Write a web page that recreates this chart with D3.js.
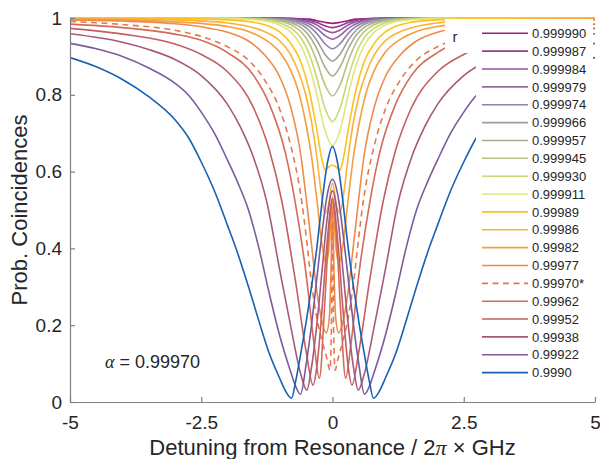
<!DOCTYPE html>
<html>
<head>
<meta charset="utf-8">
<script src="https://cdn.jsdelivr.net/npm/d3@7"></script>
<style>
  body { margin: 0; background: #fff; }
  svg { display: block; font-family: "Liberation Sans", Arial, Helvetica, sans-serif; }
</style>
</head>
<body>
<svg id="chart" width="600" height="459"></svg>
<script>
// ---- axis ticks ----
const xTicks = [-5, -2.5, 0, 2.5, 5];
const xTickLabels = ["-5", "-2.5", "0", "2.5", "5"];
const yTicks = [0, 0.2, 0.4, 0.6, 0.8, 1];
const yTickLabels = ["0", "0.2", "0.4", "0.6", "0.8", "1"];

// ---- legend entries (self-coupling r), top to bottom ----
const legendLabels = ["0.999990", "0.999987", "0.999984", "0.999979", "0.999974",
  "0.999966", "0.999957", "0.999945", "0.999930", "0.999911", "0.99989", "0.99986",
  "0.99982", "0.99977", "0.99970*", "0.99962", "0.99952", "0.99938", "0.99922", "0.9990"];

// ---- under-coupled single dips share one detuning grid ----
const detuningNarrow = [-5, -2, -1.5, -1.2, -1, -0.8, -0.6, -0.45, -0.3, -0.15, 0,
  0.15, 0.3, 0.45, 0.6, 0.8, 1, 1.2, 1.5, 2, 5];
const p_999990 = [1, 1, 1, 1, 1, 0.999, 0.998, 0.997, 0.993, 0.989, 0.986, 0.989, 0.993, 0.997, 0.998, 0.999, 1, 1, 1, 1, 1];
const p_999987 = [1, 1, 1, 1, 0.9993, 0.9986, 0.997, 0.994, 0.988, 0.980, 0.975, 0.980, 0.988, 0.994, 0.997, 0.9986, 0.9993, 1, 1, 1, 1];
const p_999984 = [1, 1, 1, 0.9994, 0.999, 0.998, 0.995, 0.990, 0.982, 0.969, 0.962, 0.969, 0.982, 0.990, 0.995, 0.998, 0.999, 0.9994, 1, 1, 1];
const p_999979 = [1, 1, 1, 0.999, 0.998, 0.9965, 0.992, 0.985, 0.973, 0.955, 0.945, 0.955, 0.973, 0.985, 0.992, 0.9965, 0.998, 0.999, 1, 1, 1];
const p_999974 = [1, 0.9998, 0.9994, 0.9986, 0.997, 0.995, 0.988, 0.978, 0.960, 0.934, 0.920, 0.934, 0.960, 0.978, 0.988, 0.995, 0.997, 0.9986, 0.9994, 0.9998, 1];
const p_999966 = [1, 0.9997, 0.999, 0.998, 0.996, 0.992, 0.983, 0.968, 0.942, 0.907, 0.888, 0.907, 0.942, 0.968, 0.983, 0.992, 0.996, 0.998, 0.999, 0.9997, 1];
const p_999957 = [1, 0.9996, 0.9986, 0.997, 0.994, 0.988, 0.975, 0.955, 0.920, 0.874, 0.849, 0.874, 0.920, 0.955, 0.975, 0.988, 0.994, 0.997, 0.9986, 0.9996, 1];
const p_999945 = [1, 0.9996, 0.998, 0.9955, 0.9915, 0.983, 0.964, 0.936, 0.888, 0.828, 0.797, 0.828, 0.888, 0.936, 0.964, 0.983, 0.9915, 0.9955, 0.998, 0.9996, 1];
const p_999930 = [1, 0.9993, 0.997, 0.993, 0.987, 0.974, 0.948, 0.908, 0.845, 0.768, 0.730, 0.768, 0.845, 0.908, 0.948, 0.974, 0.987, 0.993, 0.997, 0.9993, 1];
const p_999911 = [1, 0.999, 0.9956, 0.990, 0.981, 0.964, 0.928, 0.877, 0.801, 0.710, 0.668, 0.710, 0.801, 0.877, 0.928, 0.964, 0.981, 0.990, 0.9956, 0.999, 1];

// ---- near-critical and over-coupled curves: [detuning, probability] ----
const r99989 = [[-5,1],[-3,0.999],[-2,0.995],[-1.5,0.989],[-1.2,0.978],[-1,0.963],[-0.8,0.935],[-0.6,0.885],[-0.45,0.815],[-0.3,0.71],[-0.2,0.63],[-0.14,0.604],[-0.07,0.612],[0,0.617],
  [0.07,0.612],[0.14,0.604],[0.2,0.63],[0.3,0.71],[0.45,0.815],[0.6,0.885],[0.8,0.935],[1,0.963],[1.2,0.978],[1.5,0.989],[2,0.995],[3,0.999],[5,1]];
const r99986 = [[-5,0.999],[-3,0.995],[-2,0.987],[-1.6,0.978],[-1.3,0.965],[-1,0.94],[-0.8,0.905],[-0.65,0.86],[-0.5,0.795],[-0.4,0.73],[-0.3,0.64],[-0.22,0.55],[-0.14,0.49],[-0.08,0.51],[0,0.57],
  [0.08,0.51],[0.14,0.49],[0.22,0.55],[0.3,0.64],[0.4,0.73],[0.5,0.795],[0.65,0.86],[0.8,0.905],[1,0.94],[1.3,0.965],[1.6,0.978],[2,0.987],[3,0.995],[5,0.999]];
const r99982 = [[-5,0.997],[-3,0.99],[-2,0.978],[-1.6,0.965],[-1.3,0.945],[-1,0.91],[-0.8,0.865],[-0.65,0.81],[-0.5,0.72],[-0.4,0.64],[-0.3,0.53],[-0.2,0.41],[-0.12,0.36],[-0.06,0.41],[0,0.535],
  [0.06,0.41],[0.12,0.36],[0.2,0.41],[0.3,0.53],[0.4,0.64],[0.5,0.72],[0.65,0.81],[0.8,0.865],[1,0.91],[1.3,0.945],[1.6,0.965],[2,0.978],[3,0.99],[5,0.997]];
const r99977 = [[-5,0.995],[-4,0.992],[-3,0.985],[-2.5,0.977],[-2,0.963],[-1.6,0.94],[-1.3,0.905],[-1,0.845],[-0.8,0.77],[-0.6,0.64],[-0.5,0.53],[-0.4,0.41],[-0.3,0.29],[-0.2,0.21],[-0.12,0.18],[-0.06,0.22],[-0.03,0.33],[0,0.51],
  [0.03,0.33],[0.06,0.22],[0.12,0.18],[0.2,0.21],[0.3,0.29],[0.4,0.41],[0.5,0.53],[0.6,0.64],[0.8,0.77],[1,0.845],[1.3,0.905],[1.6,0.94],[2,0.963],[2.5,0.977],[3,0.985],[4,0.992],[5,0.995]];
const r99970 = [[-5,0.991],[-4,0.983],[-3,0.968],[-2.5,0.952],[-2,0.925],[-1.6,0.89],[-1.3,0.84],[-1,0.76],[-0.8,0.67],[-0.59,0.526],[-0.5,0.43],[-0.4,0.31],[-0.3,0.22],[-0.2,0.16],[-0.1,0.11],[-0.05,0.083],[-0.02,0.2],[0,0.5],
  [0.02,0.2],[0.05,0.083],[0.1,0.11],[0.2,0.16],[0.3,0.22],[0.4,0.31],[0.5,0.43],[0.59,0.526],[0.8,0.67],[1,0.76],[1.3,0.84],[1.6,0.89],[2,0.925],[2.5,0.952],[3,0.968],[4,0.983],[5,0.991]];
const r99962 = [[-5,0.984],[-4,0.975],[-3,0.958],[-2.5,0.942],[-2,0.91],[-1.5,0.85],[-1.2,0.775],[-0.9,0.65],[-0.71,0.52],[-0.5,0.33],[-0.35,0.15],[-0.25,0.062],[-0.15,0.25],[-0.08,0.42],[0,0.52],
  [0.08,0.42],[0.15,0.25],[0.25,0.062],[0.35,0.15],[0.5,0.33],[0.71,0.52],[0.9,0.65],[1.2,0.775],[1.5,0.85],[2,0.91],[2.5,0.942],[3,0.958],[4,0.975],[5,0.984]];
const r99952 = [[-5,0.973],[-4,0.958],[-3,0.932],[-2.5,0.905],[-2,0.86],[-1.5,0.765],[-1.2,0.655],[-0.97,0.526],[-0.7,0.31],[-0.5,0.13],[-0.37,0.044],[-0.3,0.09],[-0.2,0.24],[-0.1,0.42],[0,0.53],
  [0.1,0.42],[0.2,0.24],[0.3,0.09],[0.37,0.044],[0.5,0.13],[0.7,0.31],[0.97,0.526],[1.2,0.655],[1.5,0.765],[2,0.86],[2.5,0.905],[3,0.932],[4,0.958],[5,0.973]];
const r99938 = [[-5,0.959],[-4,0.937],[-3.5,0.918],[-3,0.892],[-2.5,0.85],[-2,0.775],[-1.75,0.715],[-1.5,0.635],[-1.25,0.52],[-1,0.34],[-0.8,0.20],[-0.6,0.07],[-0.49,0.031],[-0.4,0.09],[-0.3,0.20],[-0.2,0.34],[-0.1,0.48],[0,0.55],
  [0.1,0.48],[0.2,0.34],[0.3,0.20],[0.4,0.09],[0.49,0.031],[0.6,0.07],[0.8,0.20],[1,0.34],[1.25,0.52],[1.5,0.635],[1.75,0.715],[2,0.775],[2.5,0.85],[3,0.892],[3.5,0.918],[4,0.937],[5,0.959]];
const r99922 = [[-5,0.934],[-4.5,0.92],[-4,0.90],[-3.5,0.87],[-3,0.83],[-2.75,0.80],[-2.5,0.755],[-2.25,0.70],[-2,0.63],[-1.8,0.57],[-1.6,0.50],[-1.4,0.40],[-1.2,0.28],[-1,0.17],[-0.8,0.08],[-0.7,0.04],[-0.61,0.02],[-0.5,0.10],[-0.4,0.20],[-0.3,0.32],[-0.2,0.44],[-0.1,0.54],[0,0.58],
  [0.1,0.54],[0.2,0.44],[0.3,0.32],[0.4,0.20],[0.5,0.10],[0.61,0.02],[0.7,0.04],[0.8,0.08],[1,0.17],[1.2,0.28],[1.4,0.40],[1.6,0.50],[1.8,0.57],[2,0.63],[2.25,0.70],[2.5,0.755],[2.75,0.80],[3,0.83],[3.5,0.87],[4,0.90],[4.5,0.92],[5,0.934]];
const r9990 = [[-5,0.897],[-4.5,0.873],[-4,0.84],[-3.5,0.795],[-3,0.735],[-2.75,0.69],[-2.5,0.625],[-2.25,0.55],[-2,0.46],[-1.8,0.385],[-1.6,0.30],[-1.4,0.21],[-1.2,0.125],[-1,0.06],[-0.9,0.03],[-0.78,0.01],[-0.7,0.055],[-0.6,0.13],[-0.5,0.21],[-0.4,0.30],[-0.3,0.40],[-0.2,0.52],[-0.1,0.62],[0,0.665],
  [0.1,0.62],[0.2,0.52],[0.3,0.40],[0.4,0.30],[0.5,0.21],[0.6,0.13],[0.7,0.055],[0.78,0.01],[0.9,0.03],[1,0.06],[1.2,0.125],[1.4,0.21],[1.6,0.30],[1.8,0.385],[2,0.46],[2.25,0.55],[2.5,0.625],[2.75,0.69],[3,0.735],[3.5,0.795],[4,0.84],[4.5,0.873],[5,0.897]];

// ---- line styling, one colour per legend entry ----
const lineColors = ["#9a1f7a", "#963a8c", "#92529c", "#8f6ca6", "#8e82a6", "#9d9d9d",
  "#a8ac92", "#b7c184", "#cad873", "#dde87a", "#fbc31b", "#fbb236", "#f79d3c", "#ef8a4a",
  "#e4794f", "#d46a57", "#c35f64", "#a6587c", "#7c5b9d", "#1761b3"];

const zip = (xs, ys) => xs.map((x, i) => [x, ys[i]]);
const curves = [
  zip(detuningNarrow, p_999990), zip(detuningNarrow, p_999987), zip(detuningNarrow, p_999984),
  zip(detuningNarrow, p_999979), zip(detuningNarrow, p_999974), zip(detuningNarrow, p_999966),
  zip(detuningNarrow, p_999957), zip(detuningNarrow, p_999945), zip(detuningNarrow, p_999930),
  zip(detuningNarrow, p_999911), r99989, r99986, r99982, r99977, r99970, r99962, r99952,
  r99938, r99922, r9990
];
const series = legendLabels.map((label, i) => ({
  label, points: curves[i], color: lineColors[i], dashed: label.endsWith("*")
}));

// ---- layout ----
const svg = d3.select("#chart");
const x = d3.scaleLinear().domain([-5, 5]).range([70, 595]);
const y = d3.scaleLinear().domain([0, 1]).range([402, 18]);
const axisColor = "#808080";
const textColor = "#262626";

svg.append("defs").append("clipPath").attr("id", "plotClip")
  .append("rect").attr("x", 70).attr("y", 14).attr("width", 527).attr("height", 390);

const line = d3.line()
  .x(d => x(d[0]))
  .y(d => y(d[1]))
  .curve(d3.curveMonotoneX);

const plot = svg.append("g").attr("clip-path", "url(#plotClip)");
plot.selectAll("path.curve")
  .data(series)
  .join("path")
  .attr("class", "curve")
  .attr("d", d => line(d.points))
  .attr("fill", "none")
  .attr("stroke", d => d.color)
  .attr("stroke-width", 1.6)
  .attr("stroke-dasharray", d => d.dashed ? "6,4.5" : null);

// ---- axes (ticks point inward) ----
const xAxis = svg.append("g")
  .attr("transform", `translate(0,${y(0)})`)
  .call(d3.axisBottom(x).tickValues(xTicks).tickFormat((d, i) => xTickLabels[i])
    .tickSizeInner(-5).tickSizeOuter(0).tickPadding(14));
const yAxis = svg.append("g")
  .attr("transform", `translate(${x(-5)},0)`)
  .call(d3.axisLeft(y).tickValues(yTicks).tickFormat((d, i) => yTickLabels[i])
    .tickSizeInner(-5).tickSizeOuter(0).tickPadding(8));
[xAxis, yAxis].forEach(g => {
  g.select(".domain").attr("stroke", axisColor).attr("stroke-width", 1.2);
  g.selectAll(".tick line").attr("stroke", axisColor).attr("stroke-width", 1.2);
  g.selectAll(".tick text").attr("fill", textColor)
    .style("font-size", "19px").style("font-family", "'Liberation Sans', Arial, sans-serif");
});

// ---- axis titles ----
const xTitle = svg.append("text")
  .attr("x", (x(-5) + x(5)) / 2).attr("y", 455)
  .attr("text-anchor", "middle").attr("fill", textColor).style("font-size", "22px");
xTitle.append("tspan").text("Detuning from Resonance / 2");
xTitle.append("tspan").style("font-family", "'Liberation Serif', 'Times New Roman', serif")
  .style("font-style", "italic").text("π");
xTitle.append("tspan").text(" × GHz");

svg.append("text")
  .attr("transform", `translate(27,${(y(0) + y(1)) / 2}) rotate(-90)`)
  .attr("text-anchor", "middle").attr("fill", textColor).style("font-size", "22px")
  .text("Prob. Coincidences");

// ---- loss annotation ----
const note = svg.append("text").attr("x", 105).attr("y", 368)
  .attr("fill", textColor).style("font-size", "18px");
note.append("tspan").style("font-family", "'Liberation Serif', 'Times New Roman', serif")
  .style("font-style", "italic").text("α");
note.append("tspan").text(" = 0.99970");

// ---- legend ----
const legend = svg.append("g");
legend.append("rect").attr("x", 445).attr("y", 19).attr("width", 32).attr("height", 34).attr("fill", "#fff");
legend.append("rect").attr("x", 476).attr("y", 19).attr("width", 117).attr("height", 366).attr("fill", "#fff");
legend.append("text").attr("x", 455).attr("y", 42).attr("text-anchor", "middle")
  .attr("fill", textColor).style("font-size", "15px").text("r");

const rowY = i => 33.3 + i * 17.86;
const rows = legend.selectAll("g.row").data(series).join("g").attr("class", "row");
rows.append("line")
  .attr("x1", 482).attr("x2", 528)
  .attr("y1", (d, i) => rowY(i)).attr("y2", (d, i) => rowY(i))
  .attr("stroke", d => d.color).attr("stroke-width", 1.6)
  .attr("stroke-dasharray", d => d.dashed ? "6,4.5" : null);
rows.append("text")
  .attr("x", 532).attr("y", (d, i) => rowY(i)).attr("dy", "0.36em")
  .attr("fill", textColor).style("font-size", "13px")
  .text(d => d.label);
</script>
</body>
</html>
